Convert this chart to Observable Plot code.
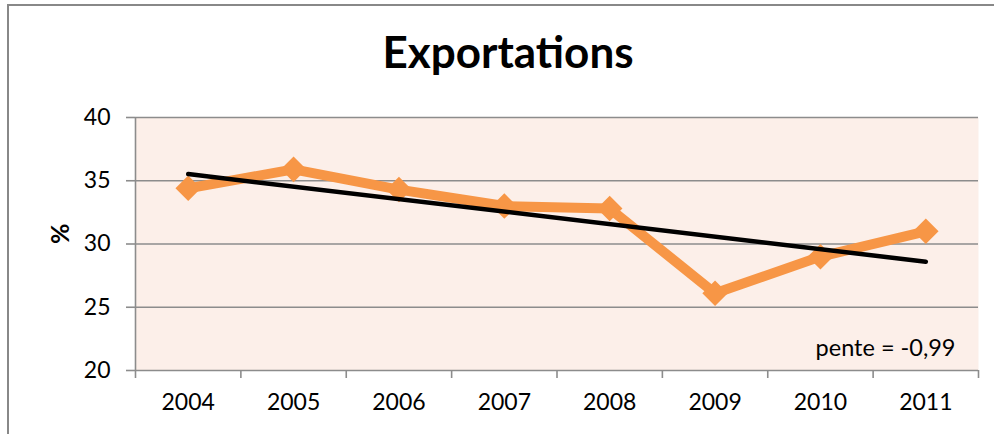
<!DOCTYPE html>
<html>
<head>
<meta charset="utf-8">
<script src="https://cdn.jsdelivr.net/npm/d3@7"></script>
<script src="https://cdn.jsdelivr.net/npm/@observablehq/plot@0.6"></script>
<style>
  html, body { margin: 0; padding: 0; background: #fff; }
  #wrap { position: relative; width: 994px; height: 434px; overflow: hidden; }
  #border { position: absolute; left: 7px; top: 4px; width: 1100px; height: 500px;
            border-left: 2px solid #888; border-top: 2px solid #888; box-sizing: border-box; }
  #title { position: absolute; left: 0; width: 1016px; top: 25px; text-align: center;
           font-family: Lato, "Open Sans", sans-serif; font-weight: bold; font-size: 44px; line-height: 52px; color: #000; }
  #chart { position: absolute; left: 0; top: 0; }
</style>
</head>
<body>
<div id="wrap">
  <div id="border"></div>
  <div id="chart"></div>
  <div id="title">Exportations</div>
</div>
<script>
const years = [2004, 2005, 2006, 2007, 2008, 2009, 2010, 2011];
const values = [34.4, 35.9, 34.3, 33.0, 32.8, 26.1, 29.0, 31.0];
const yTicks = [20, 25, 30, 35, 40];
const yLabel = "%";

const data = years.map((year, i) => ({year, value: values[i]}));
const bounds = years.map(y => y - 0.5).concat([years[years.length - 1] + 0.5]);

// least-squares slope for the annotation
const mx = d3.mean(years), my = d3.mean(values);
const slope = d3.sum(years, (x, i) => (x - mx) * (values[i] - my)) / d3.sum(years, x => (x - mx) ** 2);
const slopeLabel = "pente = " + slope.toFixed(2).replace(".", ",");

const grid = "#8c8c8c";
const chart = Plot.plot({
  width: 994,
  height: 434,
  marginTop: 117,
  marginLeft: 135,
  marginRight: 16,
  marginBottom: 64,
  style: {fontFamily: "Lato, 'Open Sans', sans-serif", background: "transparent", color: "#000"},
  x: {domain: [bounds[0], bounds[bounds.length - 1]]},
  y: {domain: [20, 40]},
  marks: [
    Plot.frame({fill: "#fcefe9", stroke: null}),
    Plot.gridY(yTicks, {stroke: grid, strokeOpacity: 1, strokeWidth: 1.6}),
    Plot.ruleX([bounds[0]], {y1: 20, y2: 40, stroke: grid, strokeWidth: 1.6}),
    Plot.axisY({ticks: yTicks, tickSize: 9, tickPadding: 16, stroke: grid, fill: "#000", fontSize: 23, label: null, strokeWidth: 1.6}),
    Plot.axisX({ticks: bounds, tickSize: 8, tickFormat: () => "", stroke: grid, strokeWidth: 1.6, label: null}),
    Plot.axisX({ticks: years, tickSize: 0, tickPadding: 23, tickFormat: d => String(d), fill: "#000", fontSize: 23, label: null}),
    Plot.line(data, {x: "year", y: "value", stroke: "#f79646", strokeWidth: 10, strokeLinejoin: "miter"}),
    Plot.dot(data, {x: "year", y: "value", symbol: "diamond2", r: 11.5, fill: "#f79646", stroke: null}),
    Plot.linearRegressionY(data, {x: "year", y: "value", ci: 0, stroke: "#000", strokeWidth: 4.5}),
    Plot.text([slopeLabel], {frameAnchor: "bottom-right", dx: -23, dy: -22, lineAnchor: "middle", fontSize: 23.5, fill: "#000"}),
    Plot.text([yLabel], {frameAnchor: "left", dx: -75, rotate: -90, fontSize: 25, fontWeight: "bold", fill: "#000"})
  ]
});
document.getElementById("chart").appendChild(chart);
</script>
</body>
</html>
